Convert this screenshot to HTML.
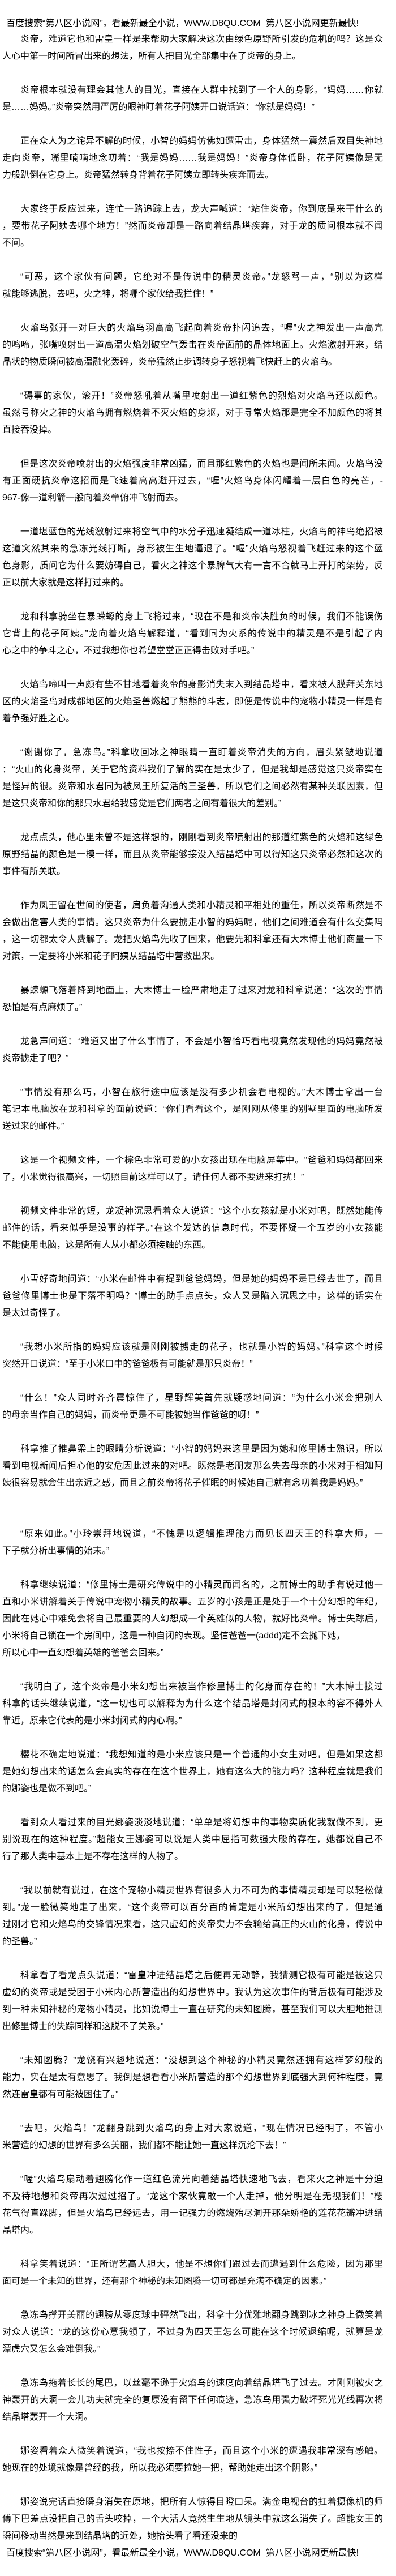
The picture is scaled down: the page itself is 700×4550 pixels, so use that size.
<!DOCTYPE html>
<html><head><meta charset="utf-8">
<style>
html,body{margin:0;padding:0;background:#fff;}
body{width:700px;height:4550px;position:relative;overflow:hidden;
font-family:"Liberation Sans","Noto Sans CJK SC",sans-serif;font-size:16px;color:#000;}
#hd{position:absolute;left:11px;top:28px;line-height:28px;white-space:nowrap;}
#c{position:absolute;left:4px;top:55px;width:673px;line-height:30px;}
.p{margin-bottom:30px;}
.p div{white-space:nowrap;}
.p div.f{white-space:normal;text-align:justify;text-align-last:justify;}
.p div.i{padding-left:32px;}
.x{margin-bottom:60px;}
#ft{padding-left:7px;white-space:nowrap;}
</style></head><body>
<div id="hd">百度搜索“第八区小说网”，看最新最全小说，WWW.D8QU.COM&nbsp;&nbsp;第八区小说网更新最快!</div>
<div id="c">
<div class="p"><div class="f i">炎帝，难道它也和雷皇一样是来帮助大家解决这次由绿色原野所引发的危机的吗？这是众</div><div>人心中第一时间所冒出来的想法，所有人把目光全部集中在了炎帝的身上。</div></div>
<div class="p"><div class="f i">炎帝根本就没有理会其他人的目光，直接在人群中找到了一个人的身影。“妈妈……你就</div><div>是……妈妈。”炎帝突然用严厉的眼神盯着花子阿姨开口说话道：“你就是妈妈！”</div></div>
<div class="p"><div class="f i">正在众人为之诧异不解的时候，小智的妈妈仿佛如遭雷击，身体猛然一震然后双目失神地</div><div class="f">走向炎帝，嘴里喃喃地念叨着：“我是妈妈……我是妈妈！”炎帝身体低卧，花子阿姨像是无</div><div>力般趴倒在它身上。炎帝猛然转身背着花子阿姨立即转头疾奔而去。</div></div>
<div class="p"><div class="f i">大家终于反应过来，连忙一路追踪上去，龙大声喊道：“站住炎帝，你到底是来干什么的</div><div class="f">，要带花子阿姨去哪个地方！”然而炎帝却是一路向着结晶塔疾奔，对于龙的质问根本就不闻</div><div>不问。</div></div>
<div class="p"><div class="f i">“可恶，这个家伙有问题，它绝对不是传说中的精灵炎帝。”龙怒骂一声，“别以为这样</div><div>就能够逃脱，去吧，火之神，将哪个家伙给我拦住！”</div></div>
<div class="p"><div class="f i">火焰鸟张开一对巨大的火焰鸟羽高高飞起向着炎帝扑闪追去，“喔”火之神发出一声高亢</div><div class="f">的鸣啼，张嘴喷射出一道高温火焰划破空气轰击在炎帝面前的晶体地面上。火焰激射开来，结</div><div>晶状的物质瞬间被高温融化轰碎，炎帝猛然止步调转身子怒视着飞快赶上的火焰鸟。</div></div>
<div class="p"><div class="f i">“碍事的家伙，滚开！”炎帝怒吼着从嘴里喷射出一道红紫色的烈焰对火焰鸟还以颜色。</div><div class="f">虽然号称火之神的火焰鸟拥有燃烧着不灭火焰的身躯，对于寻常火焰那是完全不加颜色的将其</div><div>直接吞没掉。</div></div>
<div class="p"><div class="f i">但是这次炎帝喷射出的火焰强度非常凶猛，而且那红紫色的火焰也是闻所未闻。火焰鸟没</div><div class="f">有正面硬抗炎帝这招而是飞速着高高避开过去，“喔”火焰鸟身体闪耀着一层白色的亮芒，-</div><div>967-像一道利箭一般向着炎帝俯冲飞射而去。</div></div>
<div class="p"><div class="f i">一道堪蓝色的光线激射过来将空气中的水分子迅速凝结成一道冰柱，火焰鸟的神鸟绝招被</div><div class="f">这道突然其来的急冻光线打断，身形被生生地逼退了。“喔”火焰鸟怒视着飞赶过来的这个蓝</div><div class="f">色身影，质问它为什么要妨碍自己，看火之神这个暴脾气大有一言不合就马上开打的架势，反</div><div>正以前大家就是这样打过来的。</div></div>
<div class="p"><div class="f i">龙和科拿骑坐在暴蝾螈的身上飞将过来，“现在不是和炎帝决胜负的时候，我们不能误伤</div><div class="f">它背上的花子阿姨。”龙向着火焰鸟解释道，“看到同为火系的传说中的精灵是不是引起了内</div><div>心之中的争斗之心，不过我想你也希望堂堂正正得击败对手吧。”</div></div>
<div class="p"><div class="f i">火焰鸟啼叫一声颇有些不甘地看着炎帝的身影消失末入到结晶塔中，看来被人膜拜关东地</div><div class="f">区的火焰圣鸟对成都地区的火焰圣兽燃起了熊熊的斗志，即便是传说中的宠物小精灵一样是有</div><div>着争强好胜之心。</div></div>
<div class="p"><div class="f i">“谢谢你了，急冻鸟。”科拿收回冰之神眼睛一直盯着炎帝消失的方向，眉头紧皱地说道</div><div class="f">：“火山的化身炎帝，关于它的资料我们了解的实在是太少了，但是我却是感觉这只炎帝实在</div><div class="f">是怪异的很。炎帝和水君同为被凤王所复活的三圣兽，所以它们之间必然有某种关联因素，但</div><div>是这只炎帝和你的那只水君给我感觉是它们两者之间有着很大的差别。”</div></div>
<div class="p"><div class="f i">龙点点头，他心里未曾不是这样想的，刚刚看到炎帝喷射出的那道红紫色的火焰和这绿色</div><div class="f">原野结晶的颜色是一模一样，而且从炎帝能够接没入结晶塔中可以得知这只炎帝必然和这次的</div><div>事件有所关联。</div></div>
<div class="p"><div class="f i">作为凤王留在世间的使者，肩负着沟通人类和小精灵和平相处的重任，所以炎帝断然是不</div><div class="f">会做出危害人类的事情。这只炎帝为什么要掳走小智的妈妈呢，他们之间难道会有什么交集吗</div><div class="f">，这一切都太令人费解了。龙把火焰鸟先收了回来，他要先和科拿还有大木博士他们商量一下</div><div>对策，一定要将小米和花子阿姨从结晶塔中营救出来。</div></div>
<div class="p"><div class="f i">暴蝾螈飞落着降到地面上，大木博士一脸严肃地走了过来对龙和科拿说道：“这次的事情</div><div>恐怕是有点麻烦了。”</div></div>
<div class="p"><div class="f i">龙急声问道：“难道又出了什么事情了，不会是小智恰巧看电视竟然发现他的妈妈竟然被</div><div>炎帝掳走了吧？”</div></div>
<div class="p"><div class="f i">“事情没有那么巧，小智在旅行途中应该是没有多少机会看电视的。”大木博士拿出一台</div><div class="f">笔记本电脑放在龙和科拿的面前说道：“你们看看这个，是刚刚从修里的别墅里面的电脑所发</div><div>送过来的邮件。”</div></div>
<div class="p"><div class="f i">这是一个视频文件，一个棕色非常可爱的小女孩出现在电脑屏幕中。“爸爸和妈妈都回来</div><div>了，小米觉得很高兴，一切照目前这样可以了，请任何人都不要进来打扰！”</div></div>
<div class="p"><div class="f i">视频文件非常的短，龙凝神沉思看着众人说道：“这个小女孩就是小米对吧，既然她能传</div><div class="f">邮件的话，看来似乎是没事的样子。”在这个发达的信息时代，不要怀疑一个五岁的小女孩能</div><div>不能使用电脑，这是所有人从小都必须接触的东西。</div></div>
<div class="p"><div class="f i">小雪好奇地问道：“小米在邮件中有提到爸爸妈妈，但是她的妈妈不是已经去世了，而且</div><div class="f">爸爸修里博士也是下落不明吗？”博士的助手点点头，众人又是陷入沉思之中，这样的话实在</div><div>是太过奇怪了。</div></div>
<div class="p"><div class="f i">“我想小米所指的妈妈应该就是刚刚被掳走的花子，也就是小智的妈妈。”科拿这个时候</div><div>突然开口说道：“至于小米口中的爸爸极有可能就是那只炎帝！”</div></div>
<div class="p"><div class="f i">“什么！”众人同时齐齐震惊住了，星野辉美首先就疑惑地问道：“为什么小米会把别人</div><div>的母亲当作自己的妈妈，而炎帝更是不可能被她当作爸爸的呀！”</div></div>
<div class="p x"><div class="f i">科拿推了推鼻梁上的眼睛分析说道：“小智的妈妈来这里是因为她和修里博士熟识，所以</div><div class="f">看到电视新闻后担心他的安危因此过来的对吧。既然是老朋友那么失去母亲的小米对于相知阿</div><div>姨很容易就会生出亲近之感，而且之前炎帝将花子催眠的时候她自己就有念叨着我是妈妈。”</div></div>
<div class="p"><div class="f i">“原来如此。”小玲崇拜地说道，“不愧是以逻辑推理能力而见长四天王的科拿大师，一</div><div>下子就分析出事情的始末。”</div></div>
<div class="p"><div class="f i">科拿继续说道：“修里博士是研究传说中的小精灵而闻名的，之前博士的助手有说过他一</div><div class="f">直和小米讲解着关于传说中宠物小精灵的故事。五岁的小孩是正是处于一个十分幻想的年纪，</div><div class="f">因此在她心中难免会将自己最重要的人幻想成一个英雄似的人物，就好比炎帝。博士失踪后，</div><div>小米将自己锁在一个房间中，这是一种自闭的表现。坚信爸爸一(addd)定不会抛下她，</div><div>所以心中一直幻想着英雄的爸爸会回来。”</div></div>
<div class="p"><div class="f i">“我明白了，这个炎帝是小米幻想出来被当作修里博士的化身而存在的！”大木博士接过</div><div class="f">科拿的话头继续说道，“这一切也可以解释为为什么这个结晶塔是封闭式的根本的容不得外人</div><div>靠近，原来它代表的是小米封闭式的内心啊。”</div></div>
<div class="p"><div class="f i">樱花不确定地说道：“我想知道的是小米应该只是一个普通的小女生对吧，但是如果这都</div><div class="f">是她幻想出来的话怎么会真实的存在在这个世界上，她有这么大的能力吗？这种程度就是我们</div><div>的娜姿也是做不到吧。”</div></div>
<div class="p"><div class="f i">看到众人看过来的目光娜姿淡淡地说道：“单单是将幻想中的事物实质化我就做不到，更</div><div class="f">别说现在的这种程度。”超能女王娜姿可以说是人类中屈指可数强大般的存在，她都说自己不</div><div>行了那人类中基本上是不存在这样的人物了。</div></div>
<div class="p"><div class="f i">“我以前就有说过，在这个宠物小精灵世界有很多人力不可为的事情精灵却是可以轻松做</div><div class="f">到。”龙一脸微笑地走了出来，“这个炎帝可以百分百的肯定是小米所幻想出来的了，但是通</div><div class="f">过刚才它和火焰鸟的交锋情况来看，这只虚幻的炎帝实力不会输给真正的火山的化身，传说中</div><div>的圣兽。”</div></div>
<div class="p"><div class="f i">科拿看了看龙点头说道：“雷皇冲进结晶塔之后便再无动静，我猜测它极有可能是被这只</div><div class="f">虚幻的炎帝或是受困于小米内心所营造出的幻想世界中。我认为这次事件的背后极有可能涉及</div><div class="f">到一种未知神秘的宠物小精灵，比如说博士一直在研究的未知图腾，甚至我们可以大胆地推测</div><div>出修里博士的失踪同样和这脱不了关系。”</div></div>
<div class="p"><div class="f i">“未知图腾？”龙饶有兴趣地说道：“没想到这个神秘的小精灵竟然还拥有这样梦幻般的</div><div class="f">能力，实在是太有意思了。我倒是想看看小米所营造的那个幻想世界到底强大到何种程度，竟</div><div>然连雷皇都有可能被困住了。”</div></div>
<div class="p"><div class="f i">“去吧，火焰鸟！”龙翻身跳到火焰鸟的身上对大家说道，“现在情况已经明了，不管小</div><div>米营造的幻想的世界有多么美丽，我们都不能让她一直这样沉沦下去！”</div></div>
<div class="p"><div class="f i">“喔”火焰鸟扇动着翅膀化作一道红色流光向着结晶塔快速地飞去，看来火之神是十分迫</div><div class="f">不及待地想和炎帝再次过过招了。“龙这个家伙竟敢一个人走掉，他分明是在无视我们！”樱</div><div class="f">花气得直跺脚，但是火焰鸟已经远去，用一记强力的燃烧殆尽洞开那朵娇艳的莲花花瓣冲进结</div><div>晶塔内。</div></div>
<div class="p"><div class="f i">科拿笑着说道：“正所谓艺高人胆大，他是不想你们跟过去而遭遇到什么危险，因为那里</div><div>面可是一个未知的世界，还有那个神秘的未知图腾一切可都是充满不确定的因素。”</div></div>
<div class="p"><div class="f i">急冻鸟撑开美丽的翅膀从零度球中砰然飞出，科拿十分优雅地翻身跳到冰之神身上微笑着</div><div class="f">对众人说道：“龙的这份心意我领了，不过身为四天王怎么可能在这个时候退缩呢，就算是龙</div><div>潭虎穴又怎么会难倒我。”</div></div>
<div class="p"><div class="f i">急冻鸟拖着长长的尾巴，以丝毫不逊于火焰鸟的速度向着结晶塔飞了过去。才刚刚被火之</div><div class="f">神轰开的大洞一会儿功夫就完全的复原没有留下任何痕迹，急冻鸟用强力破坏死光光线再次将</div><div>结晶塔轰开一个大洞。</div></div>
<div class="p"><div class="f i">娜姿看着众人微笑着说道，“我也按捺不住性子，而且这个小米的遭遇我非常深有感触。</div><div>她现在的处境就像是曾经的我，所以我必须要拉她一把，帮助她走出这个阴影。”</div></div>
<div class="p" style="margin-bottom:0"><div class="f i">娜姿说完话直接瞬身消失在原地，把所有人惊得目瞪口呆。满金电视台的扛着摄像机的师</div><div class="f">傅下巴差点没把自己的舌头咬掉，一个大活人竟然生生地从镜头中就这么消失了。超能女王的</div><div>瞬间移动当然是来到结晶塔的近处，她抬头看了看还没来的</div></div>
<div id="ft">百度搜索“第八区小说网”，看最新最全小说，WWW.D8QU.COM&nbsp;&nbsp;第八区小说网更新最快!</div>
</div>
</body></html>
